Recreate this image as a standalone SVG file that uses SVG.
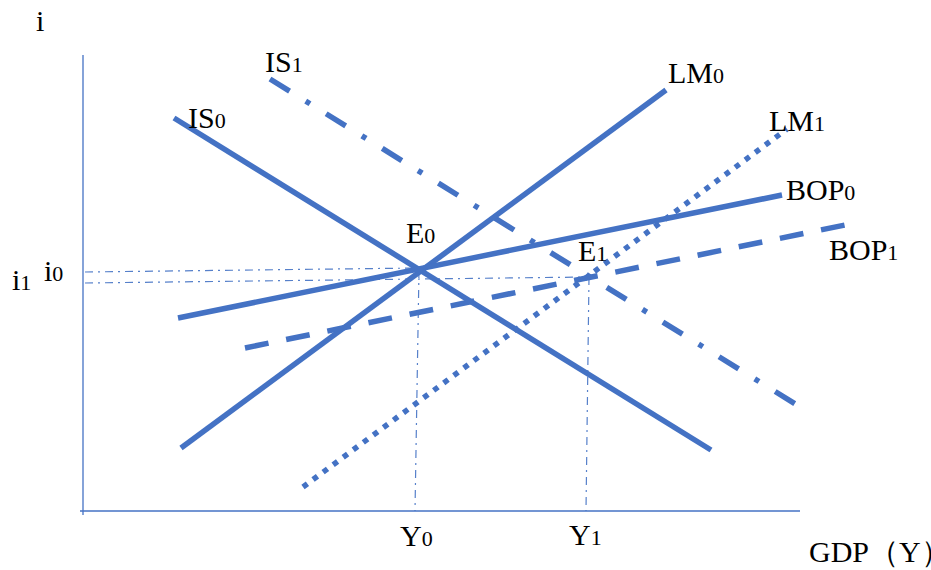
<svg xmlns="http://www.w3.org/2000/svg" width="931" height="570" viewBox="0 0 931 570">
<style>
.axis{stroke:#4472C4;stroke-width:1.3;fill:none}
.guide{stroke:#4472C4;stroke-width:1.2;fill:none;stroke-dasharray:8 5 2 5;opacity:0.9}
.curve{stroke:#4472C4;stroke-width:5.5;fill:none;stroke-linecap:butt}
.dashdot{stroke-dasharray:23 19 5 19}
.dot{stroke-dasharray:5.5 7}
.dash{stroke-dasharray:24 18}
text{font-family:"Liberation Serif","Times New Roman",serif;font-size:30px;fill:#000}
.sub{font-size:22px}
</style>
<rect width="931" height="570" fill="#fff"/>
<g id="axes">
<line class="axis" x1="83" y1="55" x2="83" y2="515"/>
<line class="axis" x1="80" y1="511" x2="800" y2="511"/>
</g>
<g id="connectors">
<line class="guide" x1="85" y1="272" x2="419" y2="268"/>
<line class="guide" x1="85" y1="283" x2="589" y2="277"/>
<line class="guide" x1="419" y1="270" x2="415" y2="511"/>
<line class="guide" x1="589" y1="277" x2="586" y2="511"/>
</g>
<g id="IS0"><line class="curve" x1="174" y1="118" x2="711" y2="450"/><text x="188" y="128">IS<tspan class="sub">0</tspan></text></g>
<g id="IS1"><line class="curve dashdot" x1="270" y1="79" x2="797" y2="405"/><text x="265" y="72">IS<tspan class="sub">1</tspan></text></g>
<g id="LM0"><line class="curve" x1="181" y1="448" x2="666" y2="90"/><text x="668" y="83">LM<tspan class="sub">0</tspan></text></g>
<g id="LM1"><line class="curve dot" x1="303" y1="487" x2="787" y2="129"/><text x="769" y="131">LM<tspan class="sub">1</tspan></text></g>
<g id="BOP0"><line class="curve" x1="178" y1="318" x2="782" y2="195"/><text x="786" y="200">BOP<tspan class="sub">0</tspan></text></g>
<g id="BOP1"><line class="curve dash" x1="245" y1="348" x2="845" y2="225"/><text x="829" y="260">BOP<tspan class="sub">1</tspan></text></g>
<g id="E0"><text x="406" y="243">E<tspan class="sub">0</tspan></text></g>
<g id="E1"><text x="578" y="261">E<tspan class="sub">1</tspan></text></g>
<g id="labels">
<text x="36" y="31">i</text>
<text x="12" y="290">i<tspan class="sub">1</tspan></text>
<text x="44" y="281">i<tspan class="sub">0</tspan></text>
<text x="400" y="546">Y<tspan class="sub">0</tspan></text>
<text x="569" y="545">Y<tspan class="sub">1</tspan></text>
<text x="809" y="562" font-size="27" font-family="'Liberation Serif','Noto Sans CJK SC',serif">GDP（Y）</text>
</g>
</svg>
